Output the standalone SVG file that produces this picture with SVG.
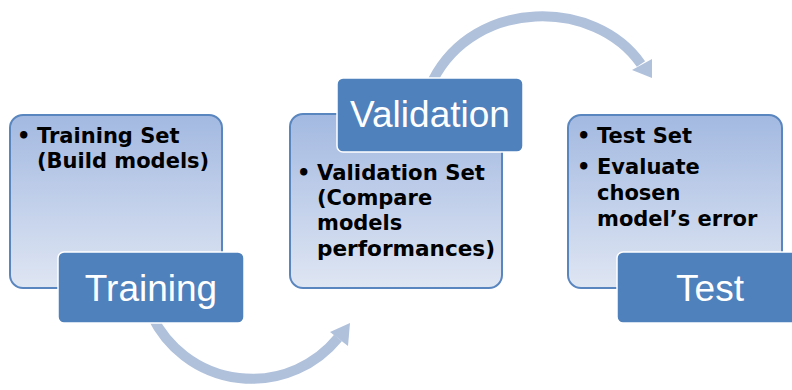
<svg xmlns="http://www.w3.org/2000/svg" width="792" height="390" viewBox="0 0 792 390">
<defs>
<linearGradient id="lg" x1="0" y1="0" x2="0" y2="1">
<stop offset="0" stop-color="#A3B9E1"/>
<stop offset="1" stop-color="#DFE6F3"/>
</linearGradient>
<style>
.light{fill:url(#lg);stroke:#5A86C0;stroke-width:2}
.dark{fill:#4F81BD;stroke:#FFFFFF;stroke-width:1.5}
.lbl{font-family:"Liberation Sans",Arial,sans-serif;font-size:37px;fill:#FFFFFF;text-anchor:middle}
.bt{font-family:"DejaVu Sans",Verdana,sans-serif;font-weight:bold;font-size:21px;fill:#000000}
.arc{fill:none;stroke:#B0C1DC;stroke-width:10}
.head{fill:#B0C1DC}
</style>
</defs>
<rect width="792" height="390" fill="#FFFFFF"/>
<g id="connectors">
<path class="arc" d="M 152 316 A 111 111 0 0 0 338 338"/>
<polygon class="head" points="330,332 350,323 348,346"/>
<path class="arc" d="M 433 80 C 475 -2, 595 -2, 641 64"/>
<polygon class="head" points="632,70 652,59 652,78"/>
</g>
<g id="training">
<rect class="light" x="10" y="115" width="212" height="173" rx="13"/>
<text class="bt" x="17" y="143">•</text>
<text class="bt" x="37" y="143">Training Set</text>
<text class="bt" x="37" y="168">(Build models)</text>
</g>
<g id="training-label">
<rect class="dark" x="58" y="252" width="186" height="71" rx="6"/>
<text class="lbl" x="151" y="301">Training</text>
</g>
<g id="validation">
<rect class="light" x="290" y="114" width="212" height="174" rx="13"/>
<text class="bt" x="297" y="180">•</text>
<text class="bt" x="317" y="180" textLength="168" lengthAdjust="spacingAndGlyphs">Validation Set</text>
<text class="bt" x="317" y="205">(Compare</text>
<text class="bt" x="317" y="230">models</text>
<text class="bt" x="317" y="256" textLength="178" lengthAdjust="spacingAndGlyphs">performances)</text>
</g>
<g id="validation-label">
<rect class="dark" x="337" y="78" width="186" height="74" rx="6"/>
<text class="lbl" x="430" y="127">Validation</text>
</g>
<g id="test">
<rect class="light" x="568" y="115" width="214" height="173" rx="13"/>
<text class="bt" x="577" y="143">•</text>
<text class="bt" x="597" y="143">Test Set</text>
<text class="bt" x="577" y="174">•</text>
<text class="bt" x="597" y="174">Evaluate</text>
<text class="bt" x="597" y="200">chosen</text>
<text class="bt" x="597" y="226">model’s error</text>
</g>
<g id="test-label">
<rect class="dark" x="617" y="252" width="186" height="71" rx="6"/>
<text class="lbl" x="710" y="301">Test</text>
</g>
</svg>
